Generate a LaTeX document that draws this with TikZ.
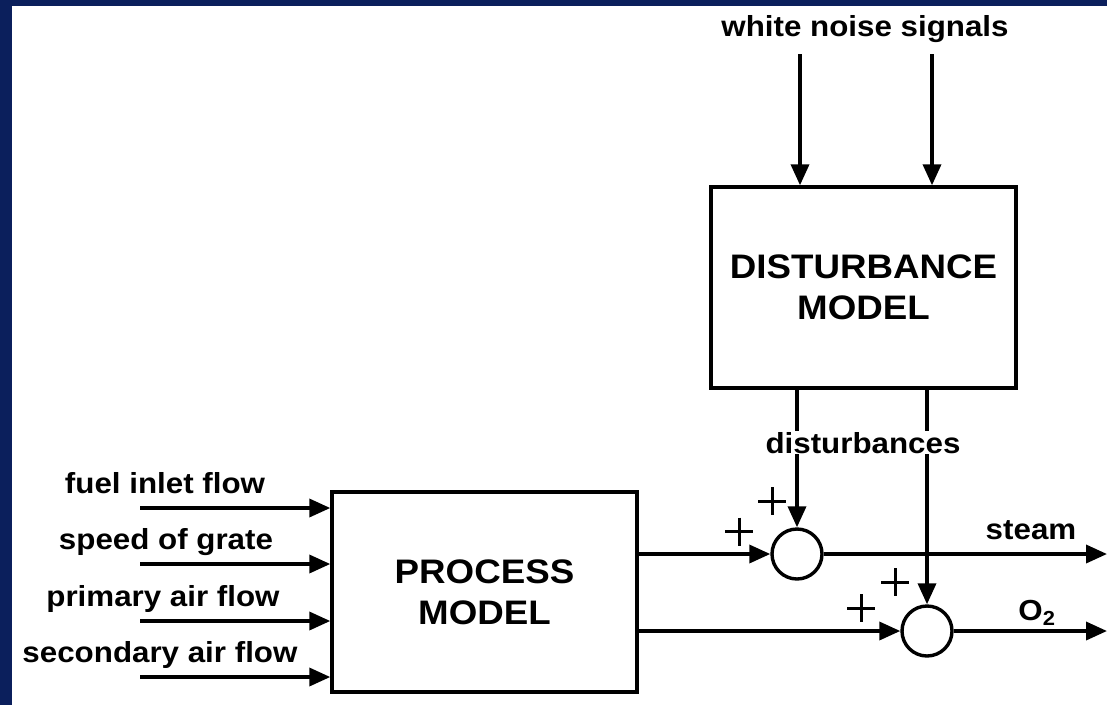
\documentclass[tikz,border=0pt]{standalone}
\usepackage{fontspec}
\setmainfont{Liberation Sans}[FakeStretch=1.08]
\usetikzlibrary{arrows.meta}
\definecolor{frameblue}{HTML}{0B1F5C}
\tikzset{
  wire/.style={line width=3.6pt},
  flow/.style={wire, -{Triangle[length=21pt,width=18pt]}},
  block/.style={draw, line width=3.4pt, minimum width=305pt, inner sep=0pt,
    font=\fontsize{34}{41}\selectfont\bfseries, align=center},
  sumpt/.style={draw, circle, line width=3.4pt, minimum size=50pt, inner sep=0pt},
  lbl/.style={font=\fontsize{29}{29}\selectfont\bfseries, inner sep=0pt, anchor=base},
  plus/.style={minimum size=28pt, inner sep=0pt,
    path picture={\draw[line width=3pt]
      (path picture bounding box.north) -- (path picture bounding box.south)
      (path picture bounding box.west) -- (path picture bounding box.east);}},
}
\begin{document}
\begin{tikzpicture}[x=1pt, y=-1pt]
  \useasboundingbox (0,0) rectangle (1107,705);
  % frame
  \fill[frameblue] (0,0) rectangle (1107,705);
  \fill[white] (12,6) rectangle (1107,705);

  % blocks
  \node[block, minimum height=201pt] (dist) at (863.5,287.5) {DISTURBANCE\\MODEL};
  \node[block, minimum height=200pt] (proc) at (484.5,592) {PROCESS\\MODEL};

  % summing junctions
  \node[sumpt] (sum1) at (797,554) {};
  \node[sumpt] (sum2) at (927,631) {};

  % white noise inputs
  \node[lbl] (wn) at (865,36) {white noise signals};
  \coordinate (wn1) at (800,54);
  \coordinate (wn2) at (932,54);
  \draw[flow] (wn1) -- (dist.north -| wn1);
  \draw[flow] (wn2) -- (dist.north -| wn2);

  % process inputs
  \coordinate (in1) at (140,508);
  \coordinate (in2) at (140,564);
  \coordinate (in3) at (140,621);
  \coordinate (in4) at (140,677);
  \node[lbl] (l1) at (165,493) {fuel inlet flow};
  \node[lbl] (l2) at (166,549) {speed of grate};
  \node[lbl] (l3) at (163,606) {primary air flow};
  \node[lbl] (l4) at (160,662) {secondary air flow};
  \foreach \i in {1,2,3,4}
    \draw[flow] (in\i) -- (proc.west |- in\i);

  % process outputs into the junctions
  \draw[flow] (proc.east |- sum1.west) -- (sum1.west);
  \draw[flow] (proc.east |- sum2.west) -- (sum2.west);

  % disturbances into the junctions
  \draw[flow] (dist.south -| sum1.north) -- (sum1.north);
  \draw[flow] (dist.south -| sum2.north) -- (sum2.north);
  \node[lbl, fill=white, inner sep=1pt] (dl) at (863,453) {disturbances};

  % outputs
  \coordinate (out1) at (1107,554);
  \coordinate (out2) at (1107,631);
  \draw[flow] (sum1.east) -- (out1);
  \draw[flow] (sum2.east) -- (out2);
  \node[lbl] (steam) at (1031,539) {steam};
  \node[lbl] (o2) at (1037,620) {O\textsubscript{2}};

  % signs
  \node[plus] (p1a) at (739,531.5) {};
  \node[plus] (p1b) at (772,501) {};
  \node[plus] (p2a) at (861,608) {};
  \node[plus] (p2b) at (895,582) {};
\end{tikzpicture}
\end{document}
